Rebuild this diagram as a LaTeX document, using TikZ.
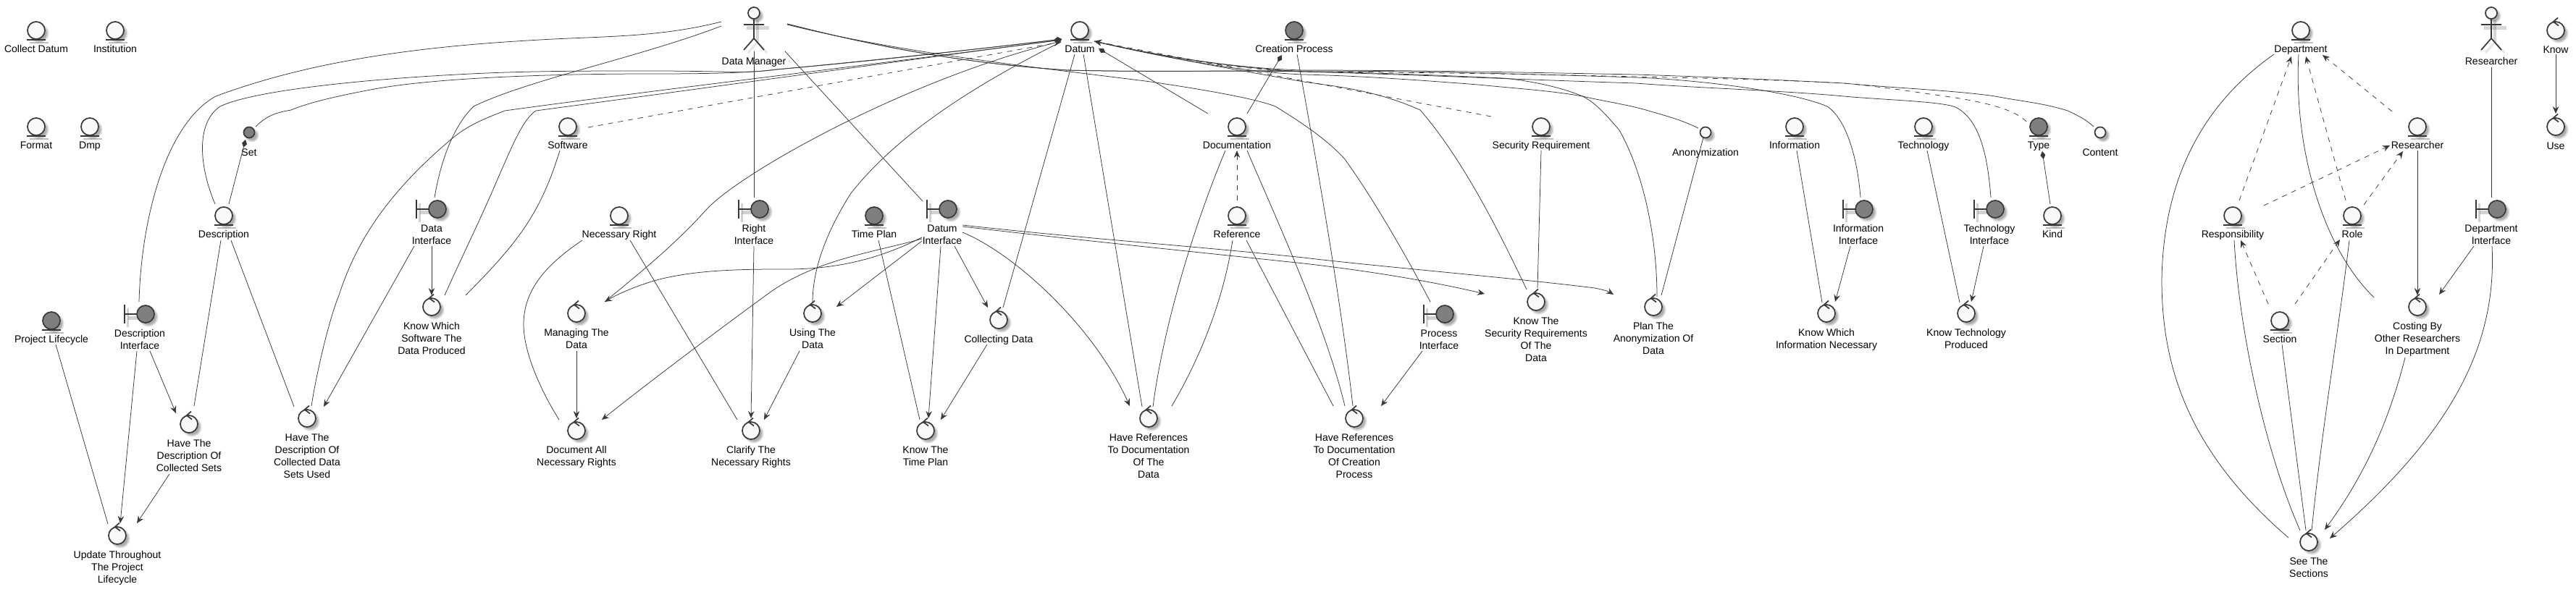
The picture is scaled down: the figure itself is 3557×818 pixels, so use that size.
\documentclass[tikz,border=0pt]{standalone}
\usepackage{fontspec}
\setmainfont{Liberation Sans}
\usetikzlibrary{arrows.meta}
\definecolor{ink}{HTML}{383838}
\definecolor{lite}{HTML}{F8F8F8}
\definecolor{dark}{HTML}{7F7F7F}
\tikzset{
  x=1pt,y=-1pt,
  ln/.style={draw=ink,line width=0.75pt},
  ar/.style={ln,-{Stealth[length=10pt,width=8.5pt,inset=3.5pt]}},
  dsh/.style={ln,dash pattern=on 7pt off 7pt},
  dar/.style={dsh,-{Stealth[length=10pt,width=8.5pt,inset=3.5pt]}},
  comp/.style={ln,-{Diamond[length=11pt,width=7pt]}},
  icon/.style={draw=ink,line width=1.7pt},
  ball/.style={circle,draw=ink,line width=1.7pt,inner sep=0pt,minimum size=24pt},
  smallball/.style={circle,draw=ink,line width=1.7pt,inner sep=0pt,minimum size=15pt},
  lbl/.style={anchor=north,inner sep=0pt,align=center,text=black,font=\fontsize{14pt}{17pt}\selectfont},
  shad/.style={black,opacity=.12},
}
\newcommand\ShadC[1]{%
  \fill[shad] (4,4) circle[radius=#1pt+1.5pt];
  \fill[shad] (4,4) circle[radius=#1pt];
  \fill[shad] (4,4) circle[radius=#1pt-1.5pt];}
% entity: name,x,y,fill,text
\newcommand\EntN[5]{\begin{scope}[shift={(#2,#3)}]
  \ShadC{12}
  \draw[black,opacity=.25,line width=2pt] (-9,17)--(17,17);
  \node[ball,fill=#4] (#1) at (0,0) {};
  \draw[icon] (-13,13)--(13,13);
  \node[lbl] (#1-t) at (0,18) {\strut #5};
\end{scope}}
% small entity
\newcommand\SmlN[5]{\begin{scope}[shift={(#2,#3)}]
  \ShadC{8}
  \node[smallball,fill=#4] (#1) at (0,0) {};
  \node[lbl] (#1-t) at (0,20) {\strut #5};
\end{scope}}
% control
\newcommand\CtlN[4]{\begin{scope}[shift={(#2,#3)}]
  \ShadC{12}
  \node[ball,fill=lite] (#1) at (0,0) {};
  \draw[icon] (3,-17.5)--(-3.3,-12)--(4,-6.5);
  \node[lbl] (#1-t) at (0,19) {\strut #4};
\end{scope}}
% boundary
\newcommand\BndN[4]{\begin{scope}[shift={(#2,#3)}]
  \ShadC{12}
  \draw[black,opacity=.18,line width=5pt] (-24,5)--(-10,5);
  \draw[black,opacity=.18,line width=3pt] (-25,-8)--(-25,18);
  \node[ball,fill=dark] (#1) at (0,0) {};
  \draw[icon] (-29,-13)--(-29,13) (-29,0)--(-12,0);
  \node[lbl] (#1-t) at (-8,19) {\strut #4};
\end{scope}}
% actor
\newcommand\ActN[4]{\begin{scope}[shift={(#2,#3)}]
  \draw[black,opacity=.16,line width=5pt] (-10,-1)--(21,-1);
  \draw[black,opacity=.16,line width=4pt] (5,-12)--(5,18);
  \draw[black,opacity=.10,line width=3pt] (5,18)--(18,33) (5,18)--(-8,33);
  \begin{scope}[shift={(0,-22)}]\ShadC{8}\end{scope}
  \node[smallball,fill=lite,minimum size=16pt] (#1) at (0,-22) {};
  \draw[icon] (0,-13)--(0,13) (-14,-6)--(14,-6) (-14,29)--(0,13)--(14,29);
  \node[lbl] (#1-t) at (0,37) {\strut #4};
\end{scope}}
\begin{document}
\begin{tikzpicture}
\useasboundingbox (0,0) rectangle (3557,818);
\fill[white] (0,0) rectangle (3557,818);

% ---- nodes ----
\EntN{cd}{50}{42}{lite}{Collect Datum}
\EntN{inst}{159}{42}{lite}{Institution}
\EntN{fmt}{50}{175}{lite}{Format}
\EntN{dmp}{124}{175}{lite}{Dmp}
\SmlN{set}{344}{183}{dark}{Set}
\EntN{desc}{309}{298}{lite}{Description}
\BndN{dif}{604}{289}{Data\\Interface}
\EntN{sw}{784}{175}{lite}{Software}
\EntN{nr}{855}{298}{lite}{Necessary Right}
\EntN{pl}{71}{443}{dark}{Project Lifecycle}
\BndN{dsi}{201}{434}{Description\\Interface}
\CtlN{hd1}{261}{586}{Have The\\Description Of\\Collected Sets}
\CtlN{hd2}{424}{578}{Have The\\Description Of\\Collected Data\\Sets Used}
\CtlN{kws}{596}{424}{Know Which\\Software The\\Data Produced}
\CtlN{mng}{796}{433}{Managing The\\Data}
\CtlN{doc}{796}{595}{Document All\\Necessary Rights}
\CtlN{upd}{162}{740}{Update Throughout\\The Project\\Lifecycle}
\ActN{dm}{1041}{40}{Data Manager}
\EntN{ds}{1491}{42}{lite}{Datum}
\EntN{cp}{1787}{42}{dark}{Creation Process}
\BndN{rif}{1049}{289}{Right\\Interface}
\EntN{tp}{1207}{298}{dark}{Time Plan}
\BndN{dtif}{1309}{289}{Datum\\Interface}
\EntN{dcm}{1708}{175}{lite}{Documentation}
\EntN{ref}{1708}{298}{lite}{Reference}
\CtlN{utd}{1122}{433}{Using The\\Data}
\CtlN{col}{1379}{442}{Collecting Data}
\CtlN{clr}{1037}{595}{Clarify The\\Necessary Rights}
\CtlN{ktp}{1278}{595}{Know The\\Time Plan}
\CtlN{hrd}{1586}{578}{Have References\\To Documentation\\Of The\\Data}
\EntN{sr}{2128}{175}{lite}{Security Requirement}
\SmlN{an}{2355}{183}{lite}{Anonymization}
\EntN{inf}{2478}{175}{lite}{Information}
\EntN{tec}{2656}{175}{lite}{Technology}
\BndN{iif}{2574}{289}{Information\\Interface}
\BndN{pif}{1995}{434}{Process\\Interface}
\CtlN{hrc}{1870}{578}{Have References\\To Documentation\\Of Creation\\Process}
\CtlN{ksr}{2121}{417}{Know The\\Security Requirements\\Of The\\Data}
\CtlN{pan}{2283}{424}{Plan The\\Anonymization Of\\Data}
\CtlN{kwi}{2522}{433}{Know Which\\Information Necessary}
\CtlN{ktc}{2715}{433}{Know Technology\\Produced}
\BndN{tif}{2755}{289}{Technology\\Interface}
\EntN{typ}{2815}{175}{dark}{Type}
\SmlN{cnt}{2900}{183}{lite}{Content}
\EntN{kd}{2834}{298}{lite}{Kind}
\EntN{dep}{3177}{42}{lite}{Department}
\ActN{rs}{3440}{40}{Researcher}
\CtlN{knw}{3529}{42}{Know}
\CtlN{us}{3529}{175}{Use}
\EntN{rse}{3338}{175}{lite}{Researcher}
\EntN{rsp}{3083}{298}{lite}{Responsibility}
\EntN{rol}{3248}{298}{lite}{Role}
\BndN{dpi}{3448}{289}{Department\\Interface}
\EntN{sec}{3148}{443}{lite}{Section}
\CtlN{cst}{3338}{424}{Costing By\\Other Researchers\\In Department}
\CtlN{see}{3188}{749}{See The\\Sections}

% ---- left converging on Datum ----
\draw[ln] ([shift={(-45,12)}]dm.center) .. controls (910,52) and (830,50) .. (746,55) .. controls (600,63) and (440,80) .. (298,133) .. controls (230,170) and (195,300) .. ([shift={(-9,-17)}]dsi.center);
\draw[ln] ([shift={(-45,18)}]dm.center) .. controls (880,80) and (730,110) .. (654,147) .. controls (625,175) and (608,225) .. ([shift={(-4,-16)}]dif.center);
\draw[comp] ([shift={(-12,-16)}]desc.center) .. controls (275,230) and (270,170) .. (304,147) .. controls (350,125) and (500,110) .. (631,103) .. controls (720,98) and (800,98) .. (900,98) .. controls (1000,98) and (1030,102) .. (1072,96) .. controls (1200,85) and (1350,68) .. ([shift={(-25,12)}]ds.center);
\draw[comp] ([shift={(9,-8)}]set.center) .. controls (370,158) and (385,155) .. (402,152) .. controls (430,140) and (480,130) .. (517,123) .. controls (600,108) and (750,102) .. (900,102) .. controls (1000,102) and (1040,100) .. (1072,96) .. controls (1200,84) and (1350,68) .. ([shift={(-25,12)}]ds.center);
\draw[comp] ([shift={(6,-17)}]hd2.center) .. controls (438,510) and (455,440) .. (468,408) .. controls (490,340) and (530,270) .. (626,190) .. controls (650,170) and (680,160) .. (697,153) .. controls (900,125) and (1200,90) .. ([shift={(-25,13)}]ds.center);
\draw[comp] ([shift={(18,-16)}]kws.center) .. controls (640,350) and (665,300) .. (689,243) .. controls (708,200) and (722,165) .. (740,153) .. controls (950,125) and (1200,90) .. ([shift={(-25,13)}]ds.center);
\draw[dar] ([shift={(28,1)}]sw.center) -- ([shift={(-26,16)}]ds.center);
\draw[ln] ([shift={(0,-15)}]utd.center) .. controls (1122,380) and (1135,330) .. (1175,267) .. controls (1220,210) and (1300,140) .. ([shift={(-26,16)}]ds.center);
\draw[ln] ([shift={(39,-16)}]mng.center) .. controls (880,380) and (930,340) .. (975,290) .. controls (1020,240) and (1250,110) .. ([shift={(-26,15)}]ds.center);

% ---- Datum Interface ----
\draw[ar] ([shift={(-36,39)}]dtif.center) .. controls (1210,360) and (1150,372) .. (1086,372) .. controls (1030,372) and (960,372) .. (903,388) .. controls (880,395) and (855,405) .. ([shift={(39,-16)}]mng.center);
\draw[ar] ([shift={(-36,41)}]dtif.center) .. controls (1200,350) and (1120,360) .. (1055,410) .. controls (1000,450) and (900,525) .. ([shift={(35,-15)}]doc.center);
\draw[ar] ([shift={(-36,44)}]dtif.center) -- ([shift={(33,-9)}]utd.center);
\draw[ar] ([shift={(-10,51)}]dtif.center) -- ([shift={(4,-17)}]ktp.center);
\draw[ar] ([shift={(9,51)}]dtif.center) -- ([shift={(-15,-17)}]col.center);
\draw[ar] ([shift={(-16,34)}]col.center) -- ([shift={(21,-15)}]ktp.center);
\draw[ln] ([shift={(6,34)}]tp.center) -- ([shift={(-8,-15)}]ktp.center);
\draw[ar] ([shift={(20,32)}]dtif.center) .. controls (1400,350) and (1510,450) .. ([shift={(-26,-17)}]hrd.center);
\draw[ar] ([shift={(20,24)}]dtif.center) .. controls (1500,333) and (1650,348) .. (1800,364) .. controls (1870,372) and (1960,385) .. ([shift={(-71,-11)}]ksr.center);
\draw[ar] ([shift={(20,22)}]dtif.center) .. controls (1500,330) and (1650,340) .. (1800,356) .. controls (1900,368) and (2100,385) .. (2202,398) .. controls (2212,400) and (2220,402) .. ([shift={(-55,-17)}]pan.center);

% ---- below Datum ----
\draw[ln] ([shift={(-7,33)}]ds.center) -- ([shift={(6,-17)}]col.center);
\draw[ln] ([shift={(5,33)}]ds.center) -- ([shift={(-9,-16)}]hrd.center);
\draw[ln] ([shift={(-16,33)}]dcm.center) .. controls (1645,320) and (1605,460) .. ([shift={(6,-16)}]hrd.center);
\draw[ln] ([shift={(-6,34)}]ref.center) .. controls (1690,410) and (1660,490) .. ([shift={(32,-17)}]hrd.center);
\draw[dar] ([shift={(0,-21)}]ref.center) -- ([shift={(0,33)}]dcm.center);
\draw[comp] ([shift={(-40,-18)}]dcm.center) -- ([shift={(26,25)}]ds.center);
\draw[comp] ([shift={(14,-18)}]dcm.center) -- ([shift={(-17,34)}]cp.center);
\draw[ln] ([shift={(14,33)}]dcm.center) .. controls (1770,320) and (1830,450) .. ([shift={(-13,-17)}]hrc.center);
\draw[ln] ([shift={(13,34)}]ref.center) -- ([shift={(-29,-17)}]hrc.center);
\draw[ln] ([shift={(4,33)}]cp.center) .. controls (1810,180) and (1850,400) .. ([shift={(-2,-17)}]hrc.center);
\draw[ar] ([shift={(-31,51)}]pif.center) -- ([shift={(37,-17)}]hrc.center);

% ---- Data Manager rightwards ----
\draw[ln] ([shift={(46,16)}]dm.center) .. controls (1250,75) and (1450,95) .. (1589,113) .. controls (1650,122) and (1730,135) .. (1761,147) .. controls (1790,165) and (1830,190) .. (1857,220) .. controls (1900,280) and (1945,360) .. ([shift={(-20,-17)}]pif.center);
\draw[ln] ([shift={(46,15)}]dm.center) .. controls (1250,75) and (1370,90) .. (1474,97) .. controls (1600,100) and (1700,97) .. (1800,98) .. controls (1950,98) and (2100,102) .. (2259,107) .. controls (2340,110) and (2470,125) .. (2523,147) .. controls (2550,165) and (2565,220) .. ([shift={(-5,-16)}]iif.center);
\draw[ln] ([shift={(46,15)}]dm.center) .. controls (1250,75) and (1370,90) .. (1474,97) .. controls (1600,100) and (1700,97) .. (1800,99) .. controls (1950,103) and (2100,110) .. (2259,115) .. controls (2350,122) and (2460,125) .. (2546,133) .. controls (2600,138) and (2680,140) .. (2700,148) .. controls (2735,165) and (2745,220) .. ([shift={(-6,-16)}]tif.center);

% ---- right converging on Datum ----
\draw[ar] ([shift={(-13,-17)}]ksr.center) .. controls (2070,320) and (2020,220) .. (1961,152) .. controls (1900,125) and (1850,120) .. (1800,113) .. controls (1700,95) and (1600,78) .. ([shift={(20,15)}]ds.center);
\draw[dar] ([shift={(-69,-14)}]sr.center) -- ([shift={(20,15)}]ds.center);
\draw[ln] ([shift={(5,-14)}]pan.center) .. controls (2288,330) and (2270,240) .. (2236,180) .. controls (2215,155) and (2200,140) .. (2185,133) .. controls (2150,118) and (2100,110) .. (2075,108) .. controls (1900,100) and (1850,100) .. (1800,99) .. controls (1720,95) and (1620,82) .. ([shift={(20,15)}]ds.center);
\draw[ln] ([shift={(-10,-6)}]an.center) .. controls (2320,165) and (2300,160) .. (2276,153) .. controls (2250,145) and (2215,140) .. (2185,133) .. controls (2140,125) and (2090,122) .. (2041,117) .. controls (1950,110) and (1880,105) .. (1800,103) .. controls (1720,100) and (1620,82) .. ([shift={(20,15)}]ds.center);
\draw[dsh] ([shift={(-17,-7)}]typ.center) .. controls (2785,155) and (2760,145) .. (2700,135) .. controls (2650,128) and (2600,120) .. (2546,115) .. controls (2450,110) and (2350,108) .. (2259,106) .. controls (2100,102) and (1950,100) .. (1800,99) .. controls (1720,97) and (1620,82) .. ([shift={(20,15)}]ds.center);
\draw[ln] ([shift={(-9,-8)}]cnt.center) .. controls (2880,165) and (2870,160) .. (2855,153) .. controls (2820,142) and (2790,140) .. (2755,133) .. controls (2700,125) and (2620,122) .. (2546,115) .. controls (2450,110) and (2350,106) .. (2259,103) .. controls (2100,100) and (1950,97) .. (1800,97) .. controls (1720,95) and (1620,82) .. ([shift={(20,15)}]ds.center);
\draw[comp] ([shift={(-3,-16)}]kd.center) -- ([shift={(5,34)}]typ.center);

% ---- left block ----
\draw[comp] ([shift={(7,-16)}]desc.center) -- ([shift={(-5,10)}]set.center);
\draw[ln] ([shift={(-4,34)}]desc.center) -- ([shift={(7,-25)}]hd1.center);
\draw[ln] ([shift={(10,34)}]desc.center) -- ([shift={(-18,-16)}]hd2.center);
\draw[ar] ([shift={(-32,51)}]dif.center) -- ([shift={(23,-16)}]hd2.center);
\draw[ar] ([shift={(-8,51)}]dif.center) -- ([shift={(0,-16)}]kws.center);
\draw[ln] ([shift={(-11,33)}]sw.center) .. controls (745,300) and (710,340) .. ([shift={(47,-16)}]kws.center);
\draw[ar] ([shift={(6,51)}]dsi.center) -- ([shift={(-18,-15)}]hd1.center);
\draw[ar] ([shift={(-12,51)}]dsi.center) -- ([shift={(4,-17)}]upd.center);
\draw[ln] ([shift={(6,33)}]pl.center) -- ([shift={(-13,-16)}]upd.center);
\draw[ar] ([shift={(-27,69)}]hd1.center) -- ([shift={(27,-17)}]upd.center);
\draw[ar] ([shift={(0,52)}]mng.center) -- ([shift={(0,-17)}]doc.center);
\draw[ln] ([shift={(-51,34)}]nr.center) .. controls (755,365) and (723,400) .. (723,448) .. controls (723,490) and (750,545) .. ([shift={(-24,-15)}]doc.center);
\draw[ln] ([shift={(15,34)}]nr.center) -- ([shift={(-19,-15)}]clr.center);
\draw[ar] ([shift={(-8,51)}]rif.center) -- ([shift={(0,-17)}]clr.center);
\draw[ln] ([shift={(0,53)}]dm.center) -- ([shift={(-8,-16)}]rif.center);
\draw[ln] ([shift={(43,53)}]dm.center) -- ([shift={(-35,-11)}]dtif.center);
\draw[ar] ([shift={(-18,52)}]utd.center) -- ([shift={(18,-15)}]clr.center);

% ---- middle right block ----
\draw[ln] ([shift={(0,33)}]sr.center) -- ([shift={(2,-19)}]ksr.center);
\draw[ln] ([shift={(-3,7)}]an.center) -- ([shift={(11,-16)}]pan.center);
\draw[ln] ([shift={(3,33)}]inf.center) -- ([shift={(-6,-15)}]kwi.center);
\draw[ar] ([shift={(-19,51)}]iif.center) -- ([shift={(12,-16)}]kwi.center);
\draw[ln] ([shift={(5,33)}]tec.center) -- ([shift={(-9,-15)}]ktc.center);
\draw[ar] ([shift={(-16,51)}]tif.center) -- ([shift={(7,-16)}]ktc.center);

% ---- right block ----
\draw[ln] ([shift={(-37,33)}]dep.center) .. controls (3047,140) and (2987,240) .. (2985,387) .. controls (2985,500) and (3017,620) .. ([shift={(-28,-6)}]see.center);
\draw[ln] ([shift={(-3,33)}]dep.center) .. controls (3167,200) and (3205,340) .. ([shift={(-60,-13)}]cst.center);
\draw[dar] ([shift={(-35,-21)}]rse.center) -- ([shift={(30,34)}]dep.center);
\draw[dar] ([shift={(9,-21)}]rsp.center) -- ([shift={(-13,36)}]dep.center);
\draw[dar] ([shift={(-9,-21)}]rol.center) -- ([shift={(7,36)}]dep.center);
\draw[dar] ([shift={(43,-14)}]rsp.center) -- ([shift={(-38,26)}]rse.center);
\draw[dar] ([shift={(16,-15)}]rol.center) -- ([shift={(-20,34)}]rse.center);
\draw[dar] ([shift={(-16,-23)}]sec.center) -- ([shift={(11,34)}]rsp.center);
\draw[dar] ([shift={(21,-23)}]sec.center) -- ([shift={(-17,33)}]rol.center);
\draw[ln] ([shift={(2,34)}]rsp.center) .. controls (3091,450) and (3126,620) .. ([shift={(-12,-16)}]see.center);
\draw[ln] ([shift={(3,33)}]sec.center) -- ([shift={(-4,-16)}]see.center);
\draw[ln] ([shift={(-4,34)}]rol.center) .. controls (3230,450) and (3205,600) .. ([shift={(4,-16)}]see.center);
\draw[ar] ([shift={(0,33)}]rse.center) -- ([shift={(0,-16)}]cst.center);
\draw[ar] ([shift={(-17,70)}]cst.center) .. controls (3294,600) and (3255,670) .. ([shift={(22,-17)}]see.center);
\draw[ar] ([shift={(-7,51)}]dpi.center) .. controls (3448,480) and (3383,600) .. ([shift={(29,-5)}]see.center);
\draw[ar] ([shift={(-32,51)}]dpi.center) -- ([shift={(30,-17)}]cst.center);
\draw[ln] ([shift={(0,75)}]rs.center) -- ([shift={(-8,-16)}]dpi.center);
\draw[ar] ([shift={(0,33)}]knw.center) -- ([shift={(0,-18)}]us.center);
\end{tikzpicture}
\end{document}
